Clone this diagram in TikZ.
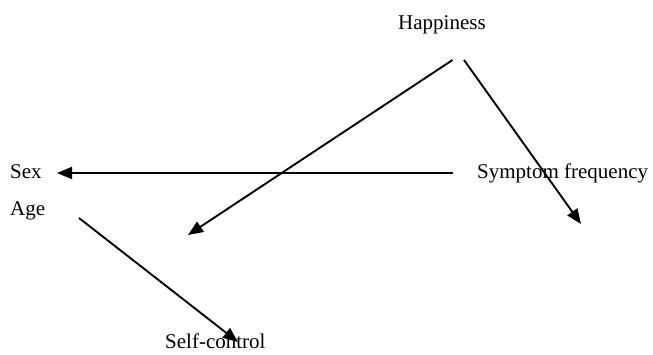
\documentclass[tikz,border=0pt]{standalone}
\usepackage{fontspec}
\setmainfont{Liberation Serif}
\usetikzlibrary{arrows.meta}
\begin{document}
\begin{tikzpicture}[x=1pt,y=-1pt,
  lbl/.style={anchor=base west,inner sep=0pt,font=\fontsize{21}{25}\selectfont},
  conn/.style={line width=1.9pt,-{Triangle[length=15pt,width=12pt]}}]
\useasboundingbox (0,0) rectangle (653,354);
\node[lbl] (hap) at (398,29) {Happiness};
\node[lbl] (sex) at (10,178) {Sex};
\node[lbl] (sym) at (477,178) {Symptom frequency};
\node[lbl] (age) at (10,215) {Age};
\node[lbl] (sc) at (165,348) {Self-control};
\coordinate (h1) at (452.5,60);
\coordinate (h2) at (464,60);
\coordinate (t1) at (188,235);
\coordinate (t2) at (581,224);
\coordinate (s1) at (453,173);
\coordinate (s2) at (57,173);
\coordinate (a1) at (79,218);
\coordinate (a2) at (238,342);
\draw[conn] (h1) -- (t1);
\draw[conn] (h2) -- (t2);
\draw[conn] (s1) -- (s2);
\draw[conn] (a1) -- (a2);
\end{tikzpicture}
\end{document}
